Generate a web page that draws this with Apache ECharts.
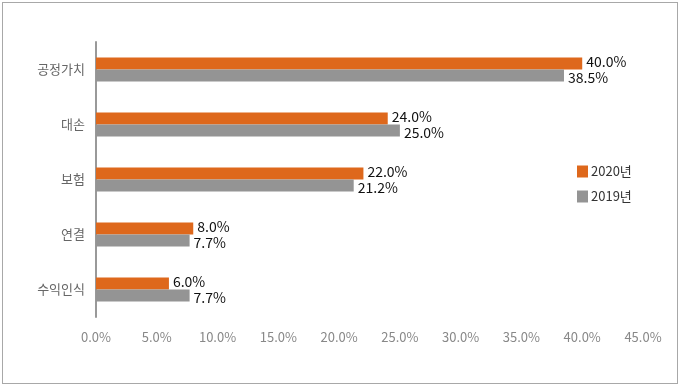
<!DOCTYPE html>
<html><head><meta charset="utf-8">
<script src="https://cdn.jsdelivr.net/npm/echarts@6/dist/echarts.min.js"></script>
<style>
html,body{margin:0;padding:0;background:#fff;}
#frame{position:absolute;left:2px;top:2px;width:674px;height:380px;border:1.5px solid #a8a8a8;}
#c{position:absolute;left:0;top:0;width:680px;height:388px;}
</style></head>
<body>
<div id="frame"></div>
<div id="c"></div>
<script>
const categories = ['공정가치','대손','보험','연결','수익인식'];
const values2020 = [40.0, 24.0, 22.0, 8.0, 6.0];
const values2019 = [38.5, 25.0, 21.2, 7.7, 7.7];
const seriesNames = ['2020년','2019년'];
const xTicks = {min:0, max:45, interval:5};

const chart = echarts.init(document.getElementById('c'), null, {renderer:'canvas'});
const labelFont = {fontFamily:'Noto Sans CJK KR', fontSize:14, color:'#111'};
chart.setOption({
  animation:false,
  textStyle:{fontFamily:'Noto Sans CJK KR'},
  grid:{left:96, top:42, width:547, height:275, containLabel:false},
  legend:{
    orient:'vertical', left:572, top:160, itemWidth:11, itemHeight:12, itemGap:12,
    data:seriesNames, icon:'rect',
    textStyle:{fontSize:13, color:'#333', fontFamily:'Noto Sans CJK KR', padding:[0,0,0,-2]}
  },
  xAxis:{
    type:'value', min:xTicks.min, max:xTicks.max, interval:xTicks.interval,
    axisLine:{show:false}, axisTick:{show:false}, splitLine:{show:false},
    axisLabel:{formatter:v=>v.toFixed(1)+'%', color:'#888', fontSize:13, margin:14, fontFamily:'Noto Sans CJK KR'}
  },
  yAxis:{
    type:'category', data:categories, inverse:true,
    axisLine:{lineStyle:{color:'#999', width:2}}, axisTick:{show:false},
    axisLabel:{color:'#666', fontSize:13, margin:11, fontFamily:'Noto Sans CJK KR'}
  },
  series:[
    {name:seriesNames[0], type:'bar', data:values2020, barWidth:12, barGap:'0%',
     itemStyle:{color:'#DE681C'},
     label:{show:true, position:'right', distance:4, offset:[0,-2], formatter:p=>p.value.toFixed(1)+'%', ...labelFont}},
    {name:seriesNames[1], type:'bar', data:values2019, barWidth:12, barGap:'0%',
     itemStyle:{color:'#949494'},
     label:{show:true, position:'right', distance:4, offset:[0,2], formatter:p=>p.value.toFixed(1)+'%', ...labelFont}}
  ]
});
</script>
</body></html>
